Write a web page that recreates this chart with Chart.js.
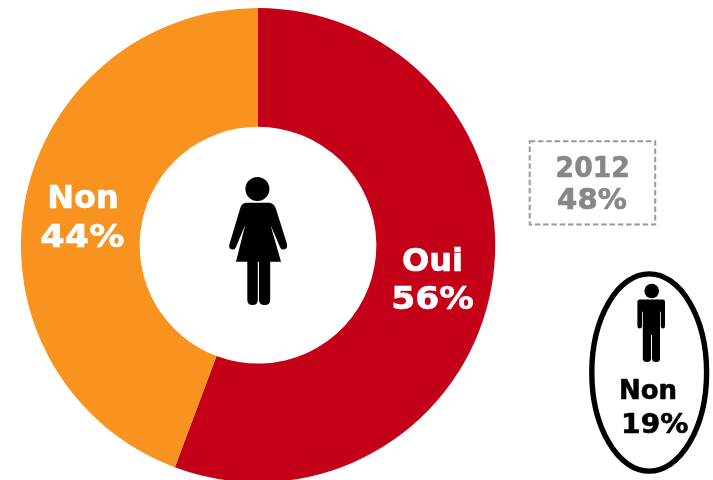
<!DOCTYPE html>
<html><head><meta charset="utf-8">
<script src="https://cdn.jsdelivr.net/npm/chart.js@4"></script>
<style>html,body{margin:0;padding:0;background:#fff;overflow:hidden;width:713px;height:480px}
#w{position:absolute;left:0;top:0;width:713px;height:490px}</style></head>
<body><div id="w"><canvas id="c" width="713" height="490"></canvas></div>
<script>
const categories = ['Oui', 'Non'];
const values = [55.7, 44.3];
const sliceLabels = ['56%', '44%'];
const sliceColors = ['#C40018', '#F7931E'];
const previousLabel = '2012';
const previousValue = '48%';
const menLabel = 'Non';
const menValue = '19%';

const FONT = '"DejaVu Sans", Verdana, sans-serif';
function text(ctx, s, x, y, size, color, sx) {
  ctx.save();
  ctx.font = 'bold ' + size + 'px ' + FONT;
  ctx.fillStyle = color;
  ctx.strokeStyle = color;
  ctx.lineWidth = 0.6;
  ctx.lineJoin = 'round';
  ctx.textAlign = 'center';
  ctx.textBaseline = 'alphabetic';
  ctx.translate(x, y);
  ctx.scale(sx || 1, 1);
  ctx.strokeText(s, 0, 0);
  ctx.fillText(s, 0, 0);
  ctx.restore();
}
function woman(ctx) {
  ctx.fillStyle = '#000';
  ctx.beginPath(); ctx.arc(257.4, 189, 12, 0, Math.PI * 2); ctx.fill();
  ctx.beginPath();
  ctx.moveTo(246, 202.8);
  ctx.lineTo(269, 202.8);
  ctx.quadraticCurveTo(274, 203, 276, 209);
  ctx.lineTo(287, 244);
  ctx.quadraticCurveTo(288, 249, 283.5, 249.5);
  ctx.quadraticCurveTo(281, 250, 280, 247);
  ctx.lineTo(270.5, 225);
  ctx.lineTo(281, 261.7);
  ctx.lineTo(270.2, 261.7);
  ctx.lineTo(270.2, 300);
  ctx.quadraticCurveTo(270.2, 305, 264.6, 305);
  ctx.quadraticCurveTo(259, 305, 259, 300);
  ctx.lineTo(259, 261.7);
  ctx.lineTo(257.8, 261.7);
  ctx.lineTo(257.8, 300);
  ctx.quadraticCurveTo(257.8, 305, 252.6, 305);
  ctx.quadraticCurveTo(247.3, 305, 247.3, 300);
  ctx.lineTo(247.3, 261.7);
  ctx.lineTo(236, 261.7);
  ctx.lineTo(245.2, 225);
  ctx.lineTo(236, 247);
  ctx.quadraticCurveTo(235, 250, 232.5, 249.5);
  ctx.quadraticCurveTo(228, 249, 229.5, 244);
  ctx.lineTo(240, 209);
  ctx.quadraticCurveTo(241.5, 203, 246, 202.8);
  ctx.closePath();
  ctx.fill();
}
function man(ctx) {
  ctx.fillStyle = '#000';
  ctx.beginPath(); ctx.arc(651.7, 291, 7.3, 0, Math.PI * 2); ctx.fill();
  ctx.beginPath();
  ctx.moveTo(640, 299.5);
  ctx.lineTo(662.5, 299.5);
  ctx.quadraticCurveTo(665, 299.5, 665, 302);
  ctx.lineTo(665, 326);
  ctx.quadraticCurveTo(665, 328.5, 662.8, 328.5);
  ctx.quadraticCurveTo(660.8, 328.5, 660.8, 326);
  ctx.lineTo(660.8, 311.7);
  ctx.lineTo(660, 311.7);
  ctx.lineTo(660, 358.5);
  ctx.quadraticCurveTo(660, 362, 656.3, 362);
  ctx.quadraticCurveTo(652, 362, 652, 358.5);
  ctx.lineTo(652, 335);
  ctx.lineTo(651, 335);
  ctx.lineTo(651, 358.5);
  ctx.quadraticCurveTo(651, 362, 647, 362);
  ctx.quadraticCurveTo(642.8, 362, 642.8, 358.5);
  ctx.lineTo(642.8, 311.7);
  ctx.lineTo(642, 311.7);
  ctx.lineTo(642, 326);
  ctx.quadraticCurveTo(642, 328.5, 639.8, 328.5);
  ctx.quadraticCurveTo(637.4, 328.5, 637.4, 326);
  ctx.lineTo(637.4, 302);
  ctx.quadraticCurveTo(637.4, 299.5, 640, 299.5);
  ctx.closePath();
  ctx.fill();
}
const overlay = {
  id: 'overlay',
  afterDraw(chart) {
    const ctx = chart.ctx;
    ctx.save();
    text(ctx, categories[0], 432.5, 270.7, 32, '#fff');
    text(ctx, sliceLabels[0], 432.5, 309, 32, '#fff', 1.08);
    text(ctx, categories[1], 83, 207.6, 32, '#fff');
    text(ctx, sliceLabels[1], 82.5, 246.6, 32, '#fff', 1.1);
    woman(ctx);
    ctx.strokeStyle = '#999';
    ctx.lineWidth = 2;
    ctx.setLineDash([5.5, 2.8]);
    ctx.strokeRect(529.7, 141.2, 125.5, 83.3);
    ctx.setLineDash([]);
    text(ctx, previousLabel, 592.7, 177.3, 27.5, '#878787', 0.97);
    text(ctx, previousValue, 592, 209, 27.5, '#878787', 1.06);
    ctx.strokeStyle = '#000';
    ctx.lineWidth = 5.4;
    ctx.beginPath();
    ctx.ellipse(649.2, 372.5, 57.4, 98.6, 0, 0, Math.PI * 2);
    ctx.stroke();
    man(ctx);
    text(ctx, menLabel, 648, 399.4, 26, '#000');
    text(ctx, menValue, 654.7, 432.6, 26, '#000', 1.08);
    ctx.restore();
  }
};
new Chart(document.getElementById('c'), {
  type: 'doughnut',
  data: { labels: categories, datasets: [{ data: values, backgroundColor: sliceColors, borderWidth: 0 }] },
  options: {
    responsive: false,
    animation: false,
    cutout: '49.9%',
    layout: { padding: { left: 20.8, right: 217.8, top: 8, bottom: 7.6 } },
    plugins: { legend: { display: false }, tooltip: { enabled: false } }
  },
  plugins: [overlay]
});
</script></body></html>
